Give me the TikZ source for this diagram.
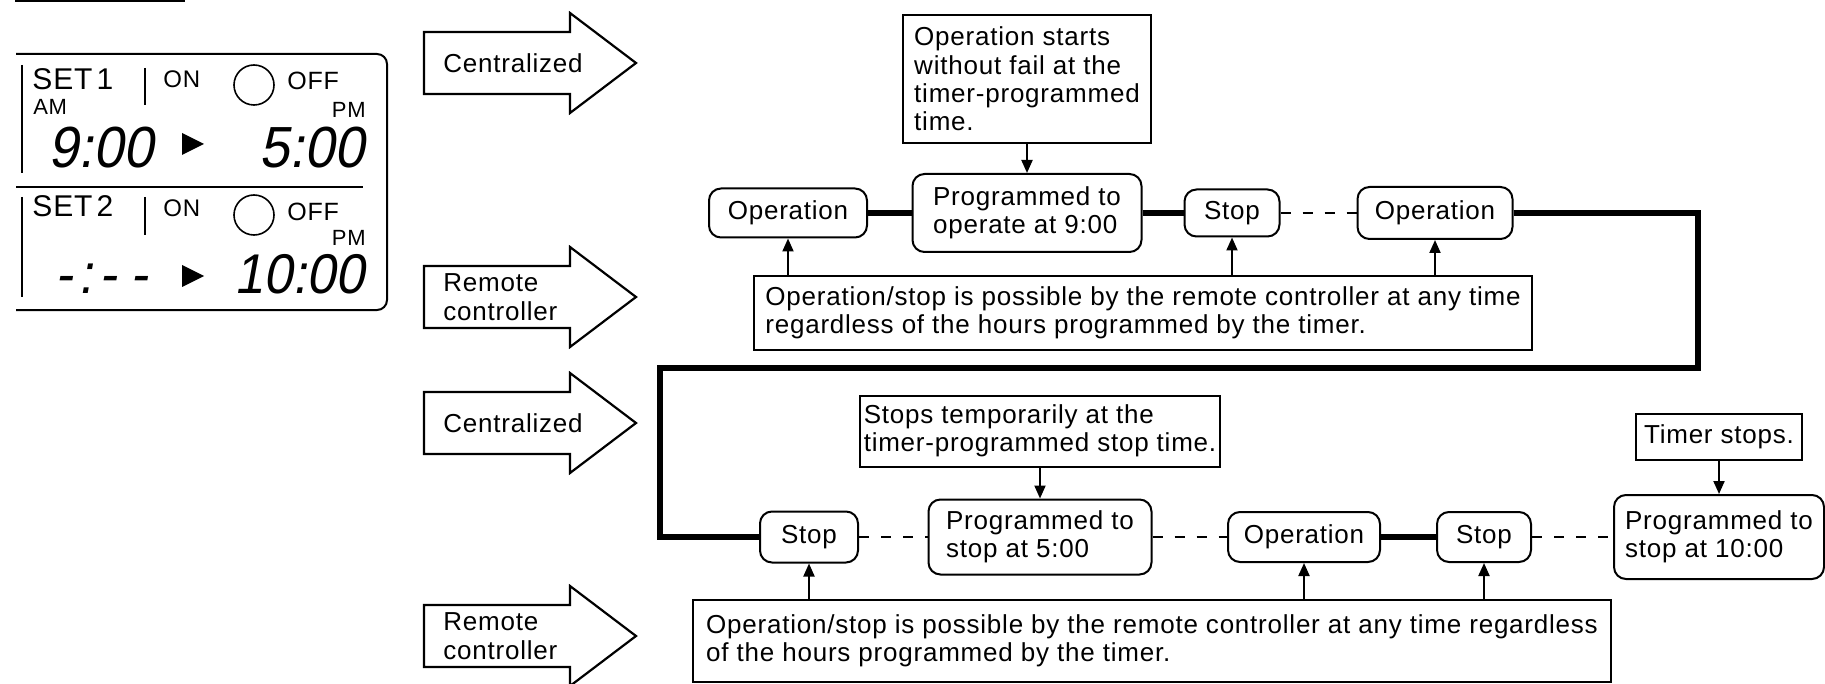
\documentclass[tikz,border=0pt]{standalone}
\usepackage{fontspec}
\setmainfont{Liberation Sans}[LetterSpace=3]
\newfontfamily\lcdfont{Liberation Sans}[FakeStretch=0.93,FakeSlant=0.18]
\usetikzlibrary{arrows.meta}

\tikzset{
  state/.style={draw,line width=1pt,rounded corners=6pt,align=left,inner sep=2pt},
  note/.style={draw,line width=1pt,align=left,inner sep=2pt},
  link/.style={line width=2.6pt},
  idle/.style={line width=1pt,dash pattern=on 5pt off 6pt},
  hit/.style={-{Triangle[length=6.5pt,width=5.5pt]},line width=1pt},
  blk/.style={draw,line width=1.1pt,line join=miter},
  lcd/.style={inner sep=0pt},
}

\begin{document}
\begin{tikzpicture}[x=0.5pt,y=-0.5pt,font=\fontsize{13}{14.2}\selectfont]
  \useasboundingbox (0,0) rectangle (1825,684);
  \draw[line width=1.2pt] (15,1) -- (185,1);

  % timer display
  \draw[line width=1pt,rounded corners=5pt] (16,54) -- (387,54) -- (387,310) -- (16,310);
  \draw[line width=1pt] (16,187) -- (363,187);
  \draw[line width=1pt] (22,65) -- (22,173) (22,197) -- (22,297)
    (145,68) -- (145,105) (145,197) -- (145,235);
  \draw[line width=0.8pt] (254,85) circle[radius=10pt] (254,215) circle[radius=10pt];
  \node[lcd,anchor=base west,font=\fontsize{15}{16}\selectfont] (setA) at (32,90) {SET\kern2pt1};
  \node[lcd,anchor=base west,font=\fontsize{15}{16}\selectfont] (setB) at (32,217) {SET\kern2pt2};
  \node[lcd,anchor=base west,font=\fontsize{12}{12}\selectfont] (onA) at (163,88) {ON};
  \node[lcd,anchor=base west,font=\fontsize{12}{12}\selectfont] (onB) at (163,217) {ON};
  \node[lcd,anchor=base west,font=\fontsize{12.5}{12}\selectfont] (offA) at (287,90) {OFF};
  \node[lcd,anchor=base west,font=\fontsize{12.5}{12}\selectfont] (offB) at (287,221) {OFF};
  \node[lcd,anchor=base west,font=\fontsize{11}{12}\selectfont] (amA) at (33,115) {AM};
  \node[lcd,anchor=base east,font=\fontsize{11}{12}\selectfont] (pmA) at (366,118) {PM};
  \node[lcd,anchor=base east,font=\fontsize{11}{12}\selectfont] (pmB) at (366,246) {PM};
  \node[lcd,anchor=base west,font=\lcdfont\fontsize{29}{29}\selectfont] (startA) at (48,168) {9:00};
  \node[lcd,anchor=base east,font=\lcdfont\fontsize{29}{29}\selectfont] (endA) at (365,168) {5:00};
  \node[lcd,anchor=base west,font=\lcdfont\fontsize{28}{28}\selectfont] (startB) at (55,293) {-\kern3pt:\kern3pt-\kern7pt-};
  \node[lcd,anchor=base east,font=\lcdfont\fontsize{28}{28}\selectfont] (endB) at (365,293) {10:00};
  \fill (182,133) -- (182,155) -- (204,144) -- cycle;
  \fill (182,265) -- (182,287) -- (204,276) -- cycle;

  % mode arrows
  \foreach \y/\nm/\txt in {63/cenA/Centralized,297/remA/{Remote\\controller},423/cenB/Centralized,636/remB/{Remote\\controller}}{
    \draw[blk] (424,\y-31) -- (570,\y-31) -- (570,\y-50) -- (636,\y)
      -- (570,\y+50) -- (570,\y+31) -- (424,\y+31) -- cycle;
    \node[anchor=west,align=left,inner sep=0pt] (\nm) at (443,\y) {\txt};
  }

  % first row
  \node[state,minimum width=79pt,minimum height=24.5pt] (opA) at (788,213) {Operation};
  \node[state,minimum width=114.5pt,minimum height=39pt] (progA) at (1027,213) {Programmed to\\operate at 9:00};
  \node[state,minimum width=47.5pt,minimum height=23.5pt] (stopA) at (1232,213) {Stop};
  \node[state,minimum width=77.5pt,minimum height=26pt] (opB) at (1435,213) {Operation};
  \node[note,minimum width=124pt,minimum height=64pt] (startNote) at (1027,79)
    {Operation starts\\without fail at the\\timer-programmed\\time.};
  \node[note,minimum width=389pt,minimum height=37pt] (remoteA) at (1143,313)
    {Operation/stop is possible by the remote controller at any time\\regardless of the hours programmed by the timer.};

  % second row
  \node[state,minimum width=49pt,minimum height=25.5pt] (stopB) at (809,537) {Stop};
  \node[state,minimum width=111.5pt,minimum height=37.5pt] (progB) at (1040,537) {Programmed to\\stop at 5:00};
  \node[state,minimum width=76pt,minimum height=25pt] (opC) at (1304,537) {Operation};
  \node[state,minimum width=47pt,minimum height=25pt] (stopC) at (1484,537) {Stop};
  \node[state,minimum width=105pt,minimum height=42pt] (progC) at (1719,537) {Programmed to\\stop at 10:00};
  \node[note,minimum width=179pt,minimum height=35.5pt] (stopNote) at (1040,431)
    {Stops temporarily at the\\timer-programmed stop time.};
  \node[note,minimum width=83pt,minimum height=23pt] (timerNote) at (1719,437) {Timer stops.};
  \node[note,minimum width=459pt,minimum height=41pt] (remoteB) at (1152,641)
    {Operation/stop is possible by the remote controller at any time regardless\\of the hours programmed by the timer.};

  \coordinate (turnA) at (1698,213);
  \coordinate (turnB) at (1698,368);
  \coordinate (turnC) at (660,368);
  \coordinate (turnD) at (660,537);

  \draw[link] (opA) -- (progA);
  \draw[link] (progA) -- (stopA);
  \draw[idle] (stopA) -- (opB);
  \draw[link,line join=miter] (opB.east) -- (turnA) -- (turnB) -- (turnC) -- (turnD) -- (stopB.west);
  \draw[idle] (stopB) -- (progB);
  \draw[idle] (progB) -- (opC);
  \draw[link] (opC) -- (stopC);
  \draw[idle] (stopC) -- (progC);

  \draw[hit] (startNote) -- (progA);
  \draw[hit] (stopNote) -- (progB);
  \draw[hit] (timerNote) -- (progC);
  \foreach \n in {opA,stopA,opB} \draw[hit] (remoteA.north -| \n) -- (\n.south);
  \foreach \n in {stopB,opC,stopC} \draw[hit] (remoteB.north -| \n) -- (\n.south);
\end{tikzpicture}
\end{document}
